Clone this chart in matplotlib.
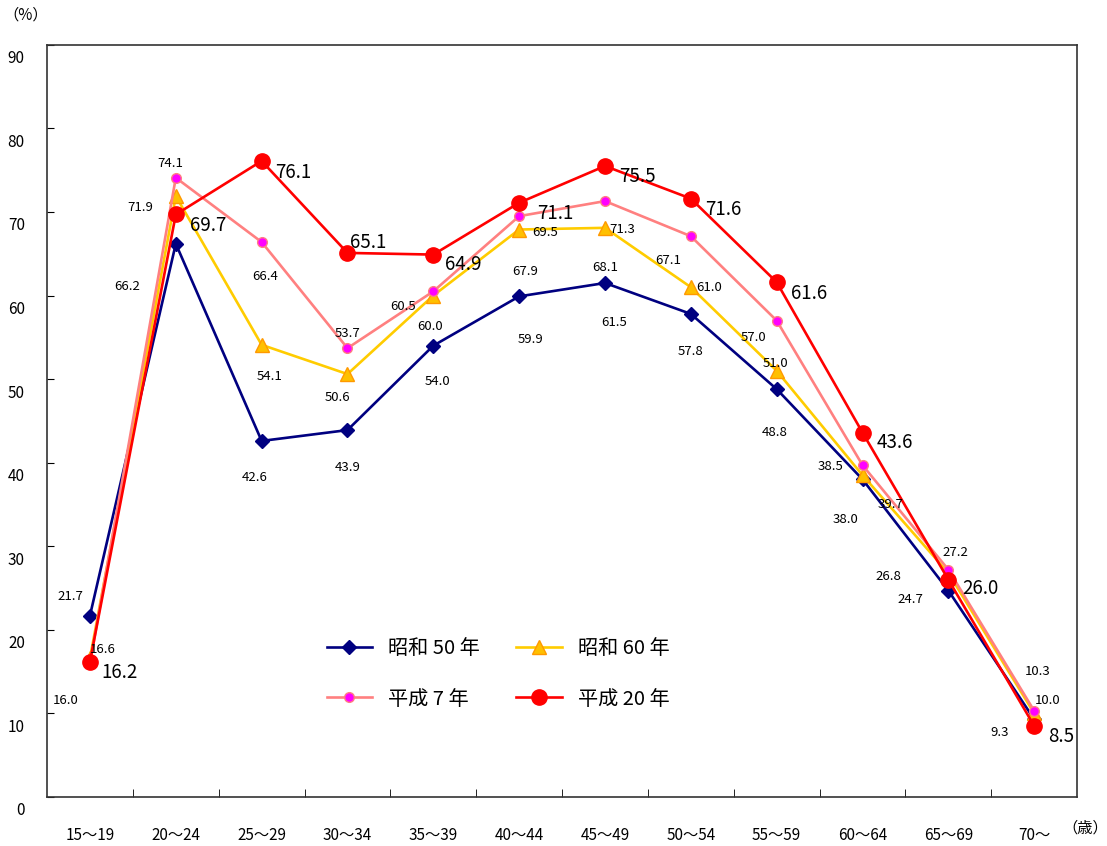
import matplotlib
matplotlib.use('Agg')
import matplotlib.pyplot as plt
import matplotlib.transforms as mtransforms
import numpy as np

plt.rcParams['font.family'] = ['Noto Sans CJK JP', 'DejaVu Sans']

ages = ['15～19', '20～24', '25～29', '30～34', '35～39', '40～44',
        '45～49', '50～54', '55～59', '60～64', '65～69', '70～']
s50 = [21.7, 66.2, 42.6, 43.9, 54.0, 59.9, 61.5, 57.8, 48.8, 38.0, 24.7, 9.3]
s60 = [16.6, 71.9, 54.1, 50.6, 60.0, 67.9, 68.1, 61.0, 51.0, 38.5, 26.8, 10.0]
h7 = [16.0, 74.1, 66.4, 53.7, 60.5, 69.5, 71.3, 67.1, 57.0, 39.7, 27.2, 10.3]
h20 = [16.2, 69.7, 76.1, 65.1, 64.9, 71.1, 75.5, 71.6, 61.6, 43.6, 26.0, 8.5]
names = ['昭和 50 年', '昭和 60 年', '平成 7 年', '平成 20 年']

# label offsets in pixels (dx, dy up)
off50 = [(-20, 19), (-49, -43), (-7, -37), (0, -37), (4, -36), (11, -43),
         (9, -39), (0, -38), (-2, -43), (-17, -40), (-38, -9), (-35, -13)]
off60 = [(13, 9), (-36, -11), (8, -32), (-10, -23), (-3, -31), (6, -42),
         (0, -40), (18, 0), (-1, 7), (-32, 9), (-60, -4), (13, 13)]
off7 = [(-24, -37), (-6, 14), (4, -34), (0, 15), (-30, -15), (26, -16),
        (17, -28), (-23, -24), (-23, -17), (28, -39), (7, 17), (3, 39)]
off20 = [(30, -11), (32, -11), (32, -12), (21, 10), (30, -10), (36, -11),
         (32, -10), (32, -11), (32, -11), (32, -10), (32, -9), (27, -11)]

x = np.arange(len(ages))

fig = plt.figure(figsize=(11.07, 8.46), dpi=100)
ax = fig.add_axes([0.0425, 0.058, 0.9305, 0.889])

l1, = ax.plot(x, s50, color='#000080', lw=1.9, marker='D', ms=7,
              mfc='#000080', mec='#000080', label=names[0])
l2, = ax.plot(x, s60, color='#FFCC00', lw=1.9, marker='^', ms=10,
              mfc='#FFC000', mec='#FF9900', label=names[1])
l3, = ax.plot(x, h7, color='#FF8080', lw=1.9, marker='o', ms=7,
              mfc='#FF00FF', mec='#FF8080', label=names[2])
l4, = ax.plot(x, h20, color='#FF0000', lw=1.9, marker='o', ms=11,
              mfc='#FF0000', mec='#FF0000', label=names[3])

for vals, offs, fs in [(s50, off50, 9.5), (s60, off60, 9.5),
                       (h7, off7, 9.5), (h20, off20, 13.5)]:
    for i, v in enumerate(vals):
        ax.annotate('%.1f' % v, (x[i], v), xytext=offs[i],
                    textcoords='offset pixels', ha='center', va='center',
                    fontsize=fs)

ax.set_xlim(-0.5, len(ages) - 0.5)
ax.set_ylim(0, 90)
ax.set_yticks(np.arange(0, 91, 10))
ax.tick_params(axis='y', direction='in', length=5, pad=16, labelsize=11)
shift = mtransforms.ScaledTranslation(0, -0.12, fig.dpi_scale_trans)
for lab in ax.get_yticklabels():
    lab.set_transform(lab.get_transform() + shift)

ax.set_xticks(x)
ax.set_xticklabels(ages)
ax.tick_params(axis='x', which='major', length=0, pad=22, labelsize=11)
ax.set_xticks(np.arange(0.5, len(ages) - 1, 1), minor=True)
ax.tick_params(axis='x', which='minor', direction='in', length=6)

for s in ax.spines.values():
    s.set_color('#333333')
    s.set_linewidth(1.2)

fig.text(0.023, 0.982, '（%）', ha='center', va='center', fontsize=11)
fig.text(0.98, 0.021, '（歳）', ha='center', va='center', fontsize=11)

ax.legend(handles=[l1, l3, l2, l4], ncol=2, loc='upper left',
          bbox_to_anchor=(0.254, 0.235), frameon=False, fontsize=14.5,
          handlelength=2.25, columnspacing=1.8, labelspacing=1.45)

fig.savefig('out.png', dpi=100)
